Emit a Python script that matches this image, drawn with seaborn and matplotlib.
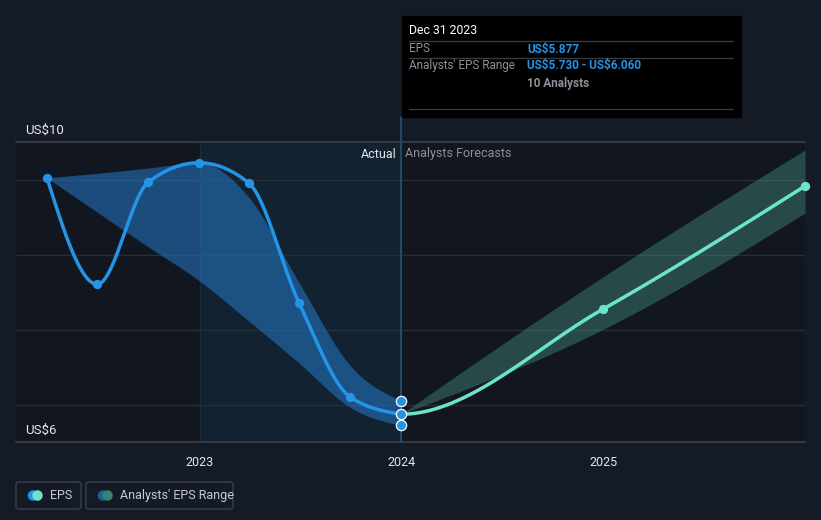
import numpy as np
import pandas as pd
import matplotlib
matplotlib.use('Agg')
import matplotlib.pyplot as plt
import matplotlib.dates as mdates
from matplotlib.patches import FancyBboxPatch, Rectangle, Ellipse
import seaborn as sns

# ---------------------------------------------------------
# data
# ---------------------------------------------------------
actual_dates = ['2022-03-31', '2022-06-30', '2022-09-30', '2022-12-31',
                '2023-03-31', '2023-06-30', '2023-09-30', '2023-12-31']
actual_eps = [9.03, 7.61, 8.97, 9.23, 8.96, 7.36, 6.11, 5.877]
past_high = [9.03, 9.09, 9.16, 9.23, 8.77, 7.63, 6.53, 6.06]
past_low = [9.03, 8.57, 8.11, 7.66, 7.12, 6.56, 5.97, 5.73]

forecast_dates = ['2023-12-31', '2024-12-31', '2025-12-31']
forecast_eps = [5.877, 7.28, 8.92]
forecast_high = [5.877, 7.71, 9.40]
forecast_low = [5.877, 7.01, 8.56]

year_ticks = ['2023', '2024', '2025']

BG = '#151b26'
BLUE = '#2394e6'
TEAL = '#6de3cd'
GRID = '#262d38'
EDGE = '#3b414b'
TXT = '#e6e6e6'
GREY = '#8c9099'


def monotone(x, y, n=60):
    # monotone cubic (d3 curveMonotoneX style) for drawing smooth paths
    x = np.asarray(x, float)
    y = np.asarray(y, float)
    h = np.diff(x)
    s = np.diff(y) / h
    m = np.zeros(len(x))
    for i in range(1, len(x) - 1):
        if s[i - 1] * s[i] <= 0:
            m[i] = 0
        else:
            p = (s[i - 1] * h[i] + s[i] * h[i - 1]) / (h[i - 1] + h[i])
            m[i] = (np.sign(s[i - 1]) + np.sign(s[i])) * min(abs(s[i - 1]), abs(s[i]), 0.5 * abs(p))
    m[0] = (3 * s[0] - m[1]) / 2
    m[-1] = (3 * s[-1] - m[-2]) / 2
    xs, ys = [], []
    for i in range(len(x) - 1):
        t = np.linspace(0, 1, n)
        h00 = 2 * t**3 - 3 * t**2 + 1
        h10 = t**3 - 2 * t**2 + t
        h01 = -2 * t**3 + 3 * t**2
        h11 = t**3 - t**2
        xs.append(x[i] + t * h[i])
        ys.append(h00 * y[i] + h10 * h[i] * m[i] + h01 * y[i + 1] + h11 * h[i] * m[i + 1])
    return np.concatenate(xs), np.concatenate(ys)


ad = mdates.date2num(pd.to_datetime(actual_dates))
fd = mdates.date2num(pd.to_datetime(forecast_dates))
ticks = mdates.date2num(pd.to_datetime([y + '-01-01' for y in year_ticks]))

sns.set_theme(style='dark')
plt.rcParams['font.family'] = ['Roboto', 'DejaVu Sans']

fig = plt.figure(figsize=(8.21, 5.2), dpi=100, facecolor=BG)
ax = fig.add_axes([16 / 821, 78 / 520, 789 / 821, 300 / 520])
ax.set_facecolor('#12171f')

x0 = mdates.date2num(pd.Timestamp('2022-02-03'))
x1 = mdates.date2num(pd.Timestamp('2025-12-31'))
ax.set_xlim(x0, x1)
ax.set_ylim(5.507, 9.507)

# shaded "actual" past year
ax.axvspan(ticks[0], ticks[1], color='#132231', zorder=0, lw=0)

for v in [6, 7, 8, 9]:
    ax.axhline(v, color=GRID, lw=1, zorder=1)
ax.axhline(9.507, color=EDGE, lw=1.2, zorder=1, clip_on=False)
ax.axvline(ticks[0], color='#1a2d3f', lw=1, zorder=1)

# past analysts range
ux, uy = monotone(ad, past_high)
lx, ly = monotone(ad, past_low)
ax.fill_between(ux, ly, uy, color='#2378c8', alpha=0.55, lw=0, zorder=2)

# forecast range
ux, uy = monotone(fd, forecast_high)
lx, ly = monotone(fd, forecast_low)
ax.fill_between(ux, ly, uy, color='#50aa96', alpha=0.35, lw=0, zorder=2)

# hover line
ax.plot([ad[-1], ad[-1]], [5.507, 9.84], color='#1f4a6b', lw=1.5, zorder=3, clip_on=False)

# actual eps line
px, py = monotone(ad, actual_eps)
sns.lineplot(x=px, y=py, ax=ax, color=BLUE, lw=2.5, sort=False, estimator=None, zorder=4)
sns.scatterplot(x=ad[:-1], y=actual_eps[:-1], ax=ax, color=BLUE, s=45, linewidth=0, zorder=5)

# forecast line (tangent taken from previous actual point)
fx, fy = monotone(np.concatenate([[ad[-2]], fd]), [actual_eps[-2]] + forecast_eps)
keep = fx >= fd[0]
sns.lineplot(x=fx[keep], y=fy[keep], ax=ax, color=TEAL, lw=2.5, sort=False, estimator=None, zorder=4)
sns.scatterplot(x=fd[1:], y=forecast_eps[1:], ax=ax, color=TEAL, s=45, linewidth=0, zorder=5, clip_on=False)

# hover markers
sns.scatterplot(x=[ad[-1]] * 3, y=[past_high[-1], actual_eps[-1], past_low[-1]], ax=ax,
                color=BLUE, s=55, edgecolor='white', linewidth=0.9, zorder=6, clip_on=False)

ax.set_xticks(ticks)
ax.set_xticklabels(year_ticks, color=TXT, fontsize=9)
ax.tick_params(axis='x', length=4, width=1, color=EDGE, pad=6)
ax.set_yticks([])
ax.set_xlabel('')
ax.set_ylabel('')
for side in ['top', 'left', 'right']:
    ax.spines[side].set_visible(False)
ax.spines['bottom'].set_color(EDGE)
ax.spines['bottom'].set_linewidth(1.2)
ax.grid(False)

ax.text(ticks[1] - 9, 9.507 - 0.16, 'Actual', color=TXT, fontsize=9, ha='right', va='center')
ax.text(ticks[1] + 6, 9.507 - 0.16, 'Analysts Forecasts', color=GREY, fontsize=9, ha='left', va='center')

fig.text(25 / 821, 1 - 130 / 520, r'US\$10', color=TXT, fontsize=9.5, va='center')
fig.text(25 / 821, 1 - 430 / 520, r'US\$6', color=TXT, fontsize=9.5, va='center')


# tooltip box
def fx_(px_):
    return px_ / 821


def fy_(py_):
    return 1 - py_ / 520


fig.patches.append(Rectangle((fx_(402), fy_(117)), fx_(741) - fx_(402), fy_(16) - fy_(117),
                             transform=fig.transFigure, color='black', zorder=10))
for yy in [41, 58, 109]:
    fig.add_artist(plt.Line2D([fx_(409), fx_(733)], [fy_(yy), fy_(yy)], color='#3a3a3a', lw=1,
                              transform=fig.transFigure, zorder=11))
fig.text(fx_(409), fy_(31), 'Dec 31 2023', color='white', fontsize=8.8, va='center', zorder=12)
fig.text(fx_(409), fy_(49), 'EPS', color=GREY, fontsize=8.5, va='center', zorder=12)
fig.text(fx_(527), fy_(49), r'US\$5.877', color=BLUE, fontsize=8.5, va='center', fontweight='bold', zorder=12)
fig.text(fx_(409), fy_(66), "Analysts' EPS Range", color=GREY, fontsize=8.5, va='center', zorder=12)
fig.text(fx_(527), fy_(66), r'US\$5.730 - US\$6.060', color=BLUE, fontsize=8.5, va='center',
         fontweight='bold', zorder=12)
fig.text(fx_(527), fy_(83), '10 Analysts', color=GREY, fontsize=8.5, va='center', fontweight='bold', zorder=12)

# legend boxes
for (l, r, c1, c2, label, tx) in [(16, 81, BLUE, TEAL, 'EPS', 50),
                                   (86, 233, '#1f5e92', '#3c7f78', "Analysts' EPS Range", 120)]:
    fig.patches.append(FancyBboxPatch((fx_(l), fy_(509)), fx_(r) - fx_(l), fy_(482) - fy_(509),
                                      boxstyle='round,pad=0,rounding_size=0.004', transform=fig.transFigure,
                                      facecolor='none', edgecolor=EDGE, lw=1))
    for cx, c in [(tx - 17, c1), (tx - 12.5, c2)]:
        fig.patches.append(Ellipse((fx_(cx), fy_(495.5)), 10.5 / 821, 10.5 / 520,
                                   transform=fig.transFigure, color=c, lw=0))
    fig.text(fx_(tx), fy_(495.5), label, color='#c8cad0', fontsize=9, va='center')

fig.savefig('out.png', dpi=100, facecolor=BG)
